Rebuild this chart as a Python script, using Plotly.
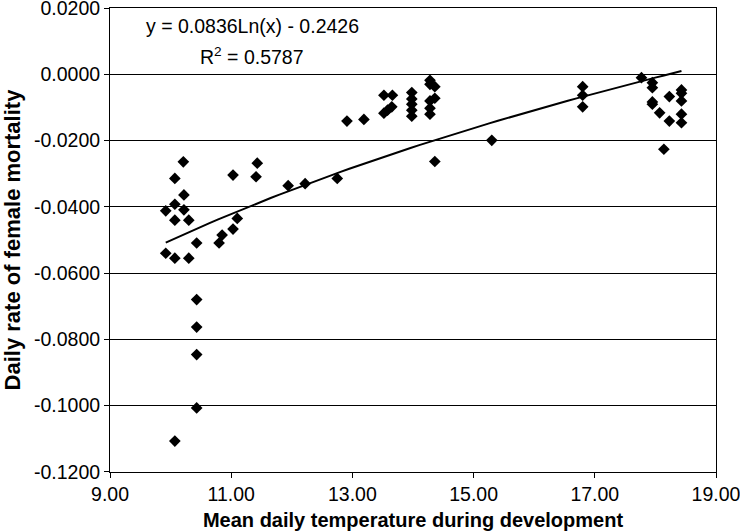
import numpy as np
import plotly.graph_objects as go

# Observed data (mean daily temperature, daily rate of female mortality)
temp = [
    10.21, 10.07, 10.22, 10.07, 9.92, 10.22, 10.07, 10.30, 10.43, 9.92, 10.07, 10.30,
    10.43, 10.43, 10.43, 10.43, 10.07,
    11.03, 11.10, 11.03, 10.85, 10.80, 11.43, 11.41,
    11.94, 12.22, 12.75, 12.91, 13.19,
    13.52, 13.66, 13.52, 13.58, 13.65,
    13.98, 13.98, 13.98, 13.98, 13.98,
    14.28, 14.28, 14.36, 14.36, 14.28, 14.28, 14.28, 14.36,
    15.30,
    16.80, 16.80, 16.80,
    17.77, 17.95, 17.95, 17.95, 17.95, 18.07, 18.23, 18.23,
    18.43, 18.43, 18.43, 18.43, 18.43, 18.14,
]
mortality = [
    -0.0264, -0.0314, -0.0364, -0.0392, -0.0412, -0.0409, -0.0440, -0.0440, -0.0509, -0.0540, -0.0555, -0.0555,
    -0.0680, -0.0763, -0.0846, -0.1007, -0.1107,
    -0.0304, -0.0435, -0.0467, -0.0485, -0.0509, -0.0268, -0.0309,
    -0.0336, -0.0330, -0.0314, -0.0141, -0.0136,
    -0.0063, -0.0063, -0.0117, -0.0108, -0.0098,
    -0.0055, -0.0074, -0.0090, -0.0108, -0.0126,
    -0.0018, -0.0030, -0.0037, -0.0072, -0.0080, -0.0102, -0.0120, -0.0263,
    -0.0199,
    -0.0037, -0.0063, -0.0098,
    -0.0010, -0.0025, -0.0040, -0.0083, -0.0090, -0.0116, -0.0067, -0.0141,
    -0.0047, -0.0057, -0.0080, -0.0120, -0.0146, -0.0226,
]

# Logarithmic trendline as stated on the chart
trend_a = 0.0836
trend_b = -0.2426
trend_x = np.linspace(min(temp), max(temp), 60)
trend_y = trend_a * np.log(trend_x) + trend_b

x_tickvals = [9, 11, 13, 15, 17, 19]
x_ticktext = ["9.00", "11.00", "13.00", "15.00", "17.00", "19.00"]
y_tickvals = [0.02, 0.0, -0.02, -0.04, -0.06, -0.08, -0.10, -0.12]
y_ticktext = ["0.0200", "0.0000", "-0.0200", "-0.0400", "-0.0600", "-0.0800", "-0.1000", "-0.1200"]

FONT = "Liberation Sans, Arial, sans-serif"

fig = go.Figure()
fig.add_trace(go.Scatter(
    x=temp, y=mortality, mode="markers",
    marker=dict(symbol="diamond", size=9, color="black"),
    showlegend=False,
))
fig.add_trace(go.Scatter(
    x=trend_x, y=trend_y, mode="lines",
    line=dict(color="black", width=2),
    showlegend=False,
))

fig.add_annotation(x=11.35, y=0.01455, xref="x", yref="y", text="y = 0.0836Ln(x) - 0.2426",
                   showarrow=False, xanchor="center", yanchor="middle",
                   font=dict(family=FONT, size=19.5, color="black"))
fig.add_annotation(x=11.35, y=0.0055, xref="x", yref="y", text="R<sup>2</sup> = 0.5787",
                   showarrow=False, xanchor="center", yanchor="middle",
                   font=dict(family=FONT, size=19.5, color="black"))

fig.update_layout(
    width=740, height=531,
    margin=dict(l=110, r=24, t=8, b=59),
    paper_bgcolor="white", plot_bgcolor="white",
    font=dict(family=FONT, size=19.5, color="black"),
    xaxis=dict(
        range=[9, 19], tickvals=x_tickvals, ticktext=x_ticktext,
        showgrid=False, zeroline=False, automargin=False,
        showline=True, linecolor="black", linewidth=1, mirror=True,
        ticks="outside", ticklen=5, tickcolor="black",
        tickfont=dict(size=19.5), ticklabeloverflow="allow",
        title=dict(text="<b>Mean daily temperature during development</b>", font=dict(size=20)),
    ),
    yaxis=dict(
        range=[-0.12005, 0.02005], tickvals=y_tickvals, ticktext=y_ticktext,
        showgrid=True, gridcolor="black", gridwidth=1, zeroline=False, automargin=False,
        showline=True, linecolor="black", linewidth=1, mirror=True,
        ticks="outside", ticklen=5, tickcolor="black",
        tickfont=dict(size=19.5), ticklabeloverflow="allow",
        title=dict(text="<b>Daily rate of female mortality</b>", font=dict(size=22)),
    ),
)

# Remove the default page margin so the figure fills the window exactly.
fig.write_html("out.html", config={"displayModeBar": False},
               post_script="document.body.style.margin='0';")
